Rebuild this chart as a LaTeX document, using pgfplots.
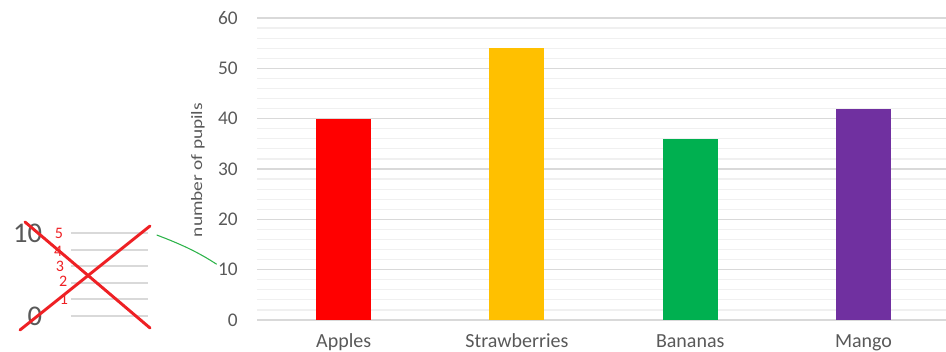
\documentclass[border=0pt]{standalone}
\usepackage{fontspec}
\setmainfont{Carlito}
\usepackage{graphicx}
\usepackage{pgfplots}
\pgfplotsset{compat=1.18}

\definecolor{tickgray}{HTML}{595959}
\definecolor{majgrid}{HTML}{D9D9D9}
\definecolor{mingrid}{HTML}{F0F0F0}
\definecolor{barred}{HTML}{FF0000}
\definecolor{baryellow}{HTML}{FFC000}
\definecolor{bargreen}{HTML}{00B050}
\definecolor{barpurple}{HTML}{7030A0}
\definecolor{penred}{HTML}{EE2024}
\definecolor{pengreen}{HTML}{2DB34A}

\begin{document}
\begin{tikzpicture}[x=0.75pt,y=0.75pt]
\path[use as bounding box] (0,0) rectangle (946,352);

% main bar chart
\begin{axis}[
  at={(192.75pt,24pt)}, anchor=south west,
  scale only axis, width=516.75pt, height=226.5pt,
  ymin=0, ymax=60, xmin=-0.5, xmax=3.476,
  ytick={0,10,...,60}, minor y tick num=4,
  xtick={0,1,2,3}, xticklabels={Apples,Strawberries,Bananas,Mango},
  ymajorgrids, yminorgrids,
  major grid style={majgrid, line width=0.9pt},
  minor grid style={mingrid, line width=0.9pt},
  axis line style={draw=none},
  tick style={draw=none},
  ticklabel style={text=tickgray},
  yticklabel style={font=\fontsize{14.5}{15}\selectfont, inner sep=0pt, anchor=east, xshift=-14.25pt},
  xticklabel style={font=\fontsize{15}{15}\selectfont, inner sep=0pt, anchor=base, yshift=-16.5pt},
  /pgf/number format/assume math mode=true,
  ybar, bar width=41.25pt,
]
\addplot[fill=barred, draw=none, bar shift=0pt] coordinates {(0,40)};
\addplot[fill=baryellow, draw=none, bar shift=0pt] coordinates {(1,54)};
\addplot[fill=bargreen, draw=none, bar shift=0pt] coordinates {(2,36)};
\addplot[fill=barpurple, draw=none, bar shift=0pt] coordinates {(3,42)};
\end{axis}

\node[rotate=90, text=tickgray, font=\fontsize{14.5}{15}\selectfont]
  at (198,182) {\scalebox{1}[0.82]{number of pupils}};

% small scale sketch on the left
\begin{axis}[
  at={(53.25pt,27pt)}, anchor=south west,
  scale only axis, width=57.75pt, height=62.25pt,
  xmin=0, xmax=1, ymin=0, ymax=10,
  xtick=\empty, ytick={0,2,...,10}, yticklabels={0,,,,,10},
  ymajorgrids,
  major grid style={majgrid, line width=1.5pt},
  axis line style={draw=none},
  tick style={draw=none},
  yticklabel style={font=\fontsize{21.4}{22}\selectfont, text=tickgray, inner sep=0pt, anchor=east, xshift=-21.5pt},
  /pgf/number format/assume math mode=true,
]
\end{axis}

% hand-drawn corrections
\draw[penred, line width=2.2pt, line cap=round] (25,130) -- (150,24);
\draw[penred, line width=2.2pt, line cap=round] (20,22) -- (150,126);
\begin{scope}[text=penred, font=\fontsize{12}{12}\selectfont, inner sep=0pt]
  \node at (59,118.7) {5};
  \node at (58.3,101) {4};
  \node at (60,85.3) {3};
  \node at (63.3,70.3) {2};
  \node at (64,53) {1};
\end{scope}
\draw[pengreen, line width=0.8pt] (156.7,117) .. controls (175,110) and (195,102) .. (216.7,87.7);

\end{tikzpicture}
\end{document}
